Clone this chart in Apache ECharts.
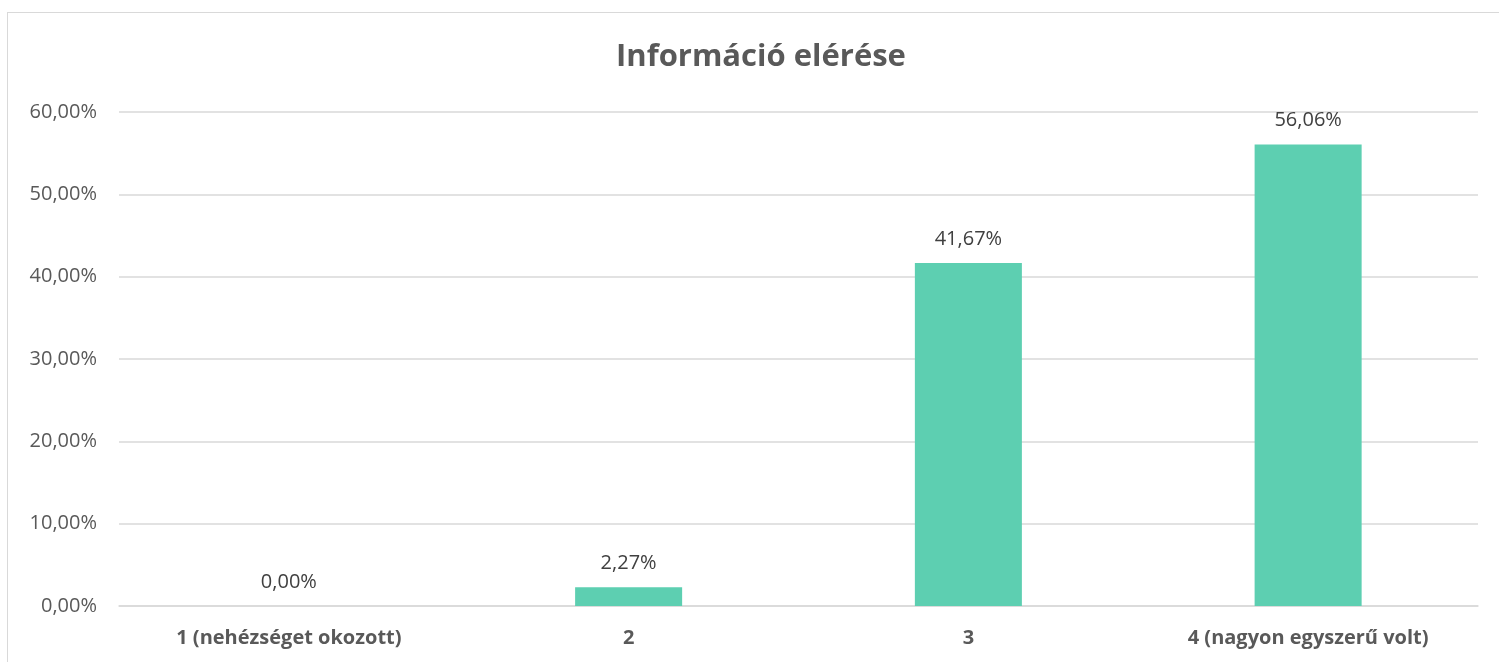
<!DOCTYPE html>
<html>
<head>
<meta charset="utf-8">
<script src="https://cdn.jsdelivr.net/npm/echarts@6/dist/echarts.min.js"></script>
<style>
  html, body { margin: 0; padding: 0; background: #fff; overflow: hidden; }
  #frame {
    position: absolute; left: 7px; top: 12px; width: 1520px; height: 680px;
    border: 1px solid #d9d9d9; box-sizing: border-box;
  }
  #chart { position: absolute; left: 0; top: 0; width: 1499px; height: 662px; }
</style>
</head>
<body>
<div id="frame"></div>
<div id="chart"></div>
<script>
const categories = ["1 (nehézséget okozott)", "2", "3", "4 (nagyon egyszerű volt)"];
const values = [0.00, 2.27, 41.67, 56.06];
const title = "Információ elérése";

const chartInstance = echarts.init(document.getElementById("chart"));
const fmt = (v) => v.toFixed(2).replace(".", ",") + "%";

const option = {
  animation: false,
  textStyle: { fontFamily: "Open Sans" },
  title: {
    text: title,
    left: 611,
    top: 37,
    textStyle: { color: "#595959", fontSize: 31, fontWeight: "bold", fontFamily: "Open Sans" },
  },
  grid: { left: 119, right: 21, top: 112, bottom: 56 },
  xAxis: {
    type: "category",
    data: categories,
    axisTick: { show: false },
    axisLine: { lineStyle: { color: "#d9d9d9", width: 1.5 } },
    axisLabel: { color: "#595959", fontSize: 20, fontWeight: "bold", margin: 22 },
  },
  yAxis: {
    type: "value",
    min: 0,
    max: 60,
    interval: 10,
    axisLabel: { color: "#595959", fontSize: 20, margin: 22, formatter: fmt },
    splitLine: { lineStyle: { color: "#d9d9d9", width: 1.5 } },
  },
  series: [
    {
      type: "bar",
      data: values,
      barWidth: "31.5%",
      itemStyle: { color: "#5dcfb1" },
      label: {
        show: true,
        position: "top",
        distance: 14,
        color: "#404040",
        fontSize: 20,
        formatter: (p) => fmt(p.value),
      },
    },
  ],
};
chartInstance.setOption(option);
</script>
</body>
</html>
